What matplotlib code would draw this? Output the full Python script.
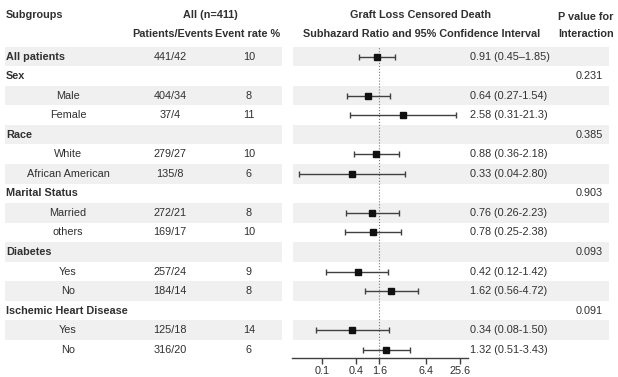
import matplotlib.pyplot as plt
import numpy as np

plt.rcParams['font.family'] = ['Liberation Sans', 'DejaVu Sans']

# ---- data
subgroups = ['All patients', 'Sex', 'Male', 'Female', 'Race', 'White', 'African American',
             'Marital Status', 'Married', 'others', 'Diabetes', 'Yes', 'No',
             'Ischemic Heart Disease', 'Yes', 'No']
is_header = [True, True, False, False, True, False, False,
             True, False, False, True, False, False, True, False, False]
patients = ['441/42', '', '404/34', '37/4', '', '279/27', '135/8', '', '272/21', '169/17',
            '', '257/24', '184/14', '', '125/18', '316/20']
rates = ['10', '', '8', '11', '', '10', '6', '', '8', '10', '', '9', '8', '', '14', '6']
hr = [0.91, np.nan, 0.64, 2.58, np.nan, 0.88, 0.33, np.nan, 0.76, 0.78,
      np.nan, 0.42, 1.62, np.nan, 0.34, 1.32]
lo = [0.45, np.nan, 0.27, 0.31, np.nan, 0.36, 0.04, np.nan, 0.26, 0.25,
      np.nan, 0.12, 0.56, np.nan, 0.08, 0.51]
hi = [1.85, np.nan, 1.54, 21.3, np.nan, 2.18, 2.80, np.nan, 2.23, 2.38,
      np.nan, 1.42, 4.72, np.nan, 1.50, 3.43]
ci_text = ['0.91 (0.45\u20131.85)', '', '0.64 (0.27-1.54)', '2.58 (0.31-21.3)', '',
           '0.88 (0.36-2.18)', '0.33 (0.04-2.80)', '', '0.76 (0.26-2.23)', '0.78 (0.25-2.38)',
           '', '0.42 (0.12-1.42)', '1.62 (0.56-4.72)', '', '0.34 (0.08-1.50)', '1.32 (0.51-3.43)']
pvals = ['', '0.231', '', '', '0.385', '', '', '0.903', '', '', '0.093', '', '', '0.091', '', '']
tick_vals = [0.1, 0.4, 1.0, 6.4, 25.6]
tick_labels = ['0.1', '0.4', '1.6', '6.4', '25.6']

W, H = 618, 377
fs = 7.8
tc = '#303030'
fig = plt.figure(figsize=(W / 100, H / 100), dpi=100)

# background axes in pixel coordinates for the table part
bg = fig.add_axes([0, 0, 1, 1])
bg.set_xlim(0, W)
bg.set_ylim(H, 0)
bg.axis('off')

n = len(subgroups)
y0, step = 56.5, 19.55
rows_y = y0 + np.arange(n) * step

for i, y in enumerate(rows_y):
    if i % 2 == 0:
        bg.add_patch(plt.Rectangle((5, y - step / 2), 277, step, color='#f0f0f0', lw=0, zorder=0))
        bg.add_patch(plt.Rectangle((293, y - step / 2), 316, step, color='#f0f0f0', lw=0, zorder=0))
    if is_header[i]:
        bg.text(6, y, subgroups[i], fontsize=fs, fontweight='bold', color=tc, va='center', ha='left')
    else:
        bg.text(68, y, subgroups[i], fontsize=fs, color=tc, va='center', ha='center')
    bg.text(170, y, patients[i], fontsize=fs, color=tc, va='center', ha='center')
    bg.text(249, y, rates[i], fontsize=fs, color=tc, va='center', ha='center')
    bg.text(470, y, ci_text[i], fontsize=fs, color=tc, va='center', ha='left')
    bg.text(589, y, pvals[i], fontsize=fs, color=tc, va='center', ha='center')

# headers
hdr = dict(fontsize=fs, fontweight='bold', color=tc, va='center')
bg.text(6, 15, 'Subgroups', ha='left', **hdr)
bg.text(210, 15, 'All (n=411)', ha='center', **hdr)
bg.text(173, 34, 'Patients/Events', ha='center', **hdr)
bg.text(248, 34, 'Event rate %', ha='center', **hdr)
bg.text(420, 15, 'Graft Loss Censored Death', ha='center', **hdr)
bg.text(422, 34, 'Subhazard Ratio and 95% Confidence Interval', ha='center', **hdr)
bg.text(558, 17, 'P value for', ha='left', **hdr)
bg.text(558, 34, 'Interaction', ha='left', **hdr)

# forest axes
x_left, x_right, y_top, y_bot = 292, 468, 46, 358
ax = fig.add_axes([x_left / W, (H - y_bot) / H, (x_right - x_left) / W, (y_bot - y_top) / H])
ax.patch.set_alpha(0)
ax.set_xscale('log')
ax.set_xlim(0.0303, 34.8)
ax.set_ylim(y_bot, y_top)
for s in ['top', 'right', 'left']:
    ax.spines[s].set_visible(False)
ax.spines['bottom'].set_color('#404040')
ax.spines['bottom'].set_linewidth(1.0)
ax.set_yticks([])
ax.set_xticks(tick_vals)
ax.set_xticklabels(tick_labels)
ax.minorticks_off()
ax.tick_params(axis='x', length=4, width=1, color='#404040', labelsize=fs, labelcolor=tc, pad=1.5)

ax.axvline(1.0, color='#777777', lw=0.8, ls=':', zorder=1)

hr_a, lo_a, hi_a = np.array(hr), np.array(lo), np.array(hi)
ok = ~np.isnan(hr_a)
ax.errorbar(hr_a[ok], rows_y[ok], xerr=[hr_a[ok] - lo_a[ok], hi_a[ok] - hr_a[ok]],
            fmt='s', color='#111111', ecolor='#404040', elinewidth=1, capsize=2.5,
            capthick=1, markersize=5, zorder=3)

fig.savefig('out.png', dpi=100)
